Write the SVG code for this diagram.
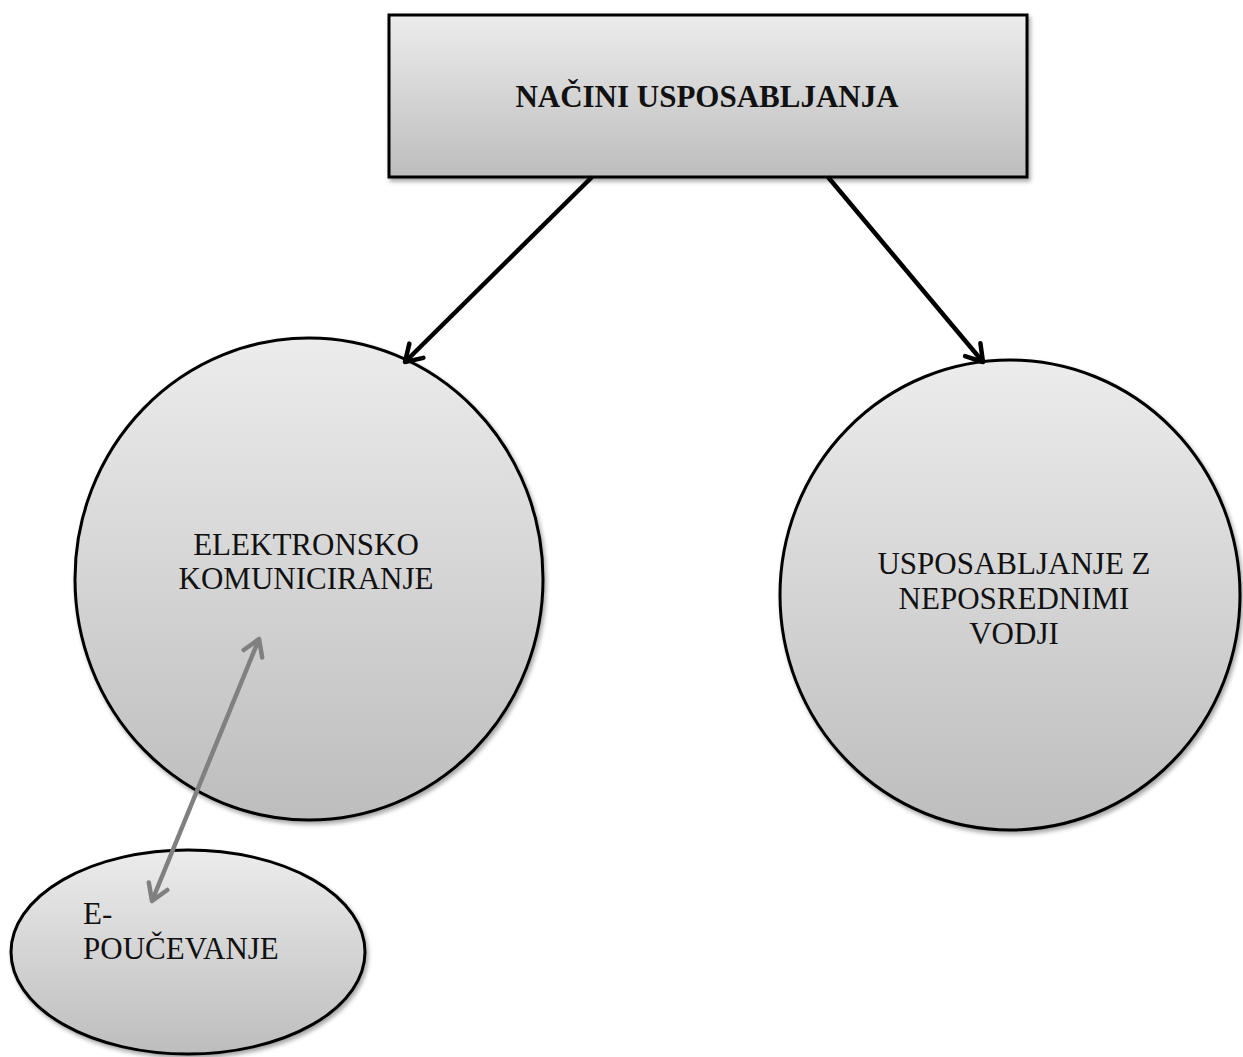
<svg xmlns="http://www.w3.org/2000/svg" width="1243" height="1057" viewBox="0 0 1243 1057">
  <style>
    .shape { stroke: #000; stroke-width: 3; fill: url(#grad); filter: url(#shadow); }
    .lbl { font-family: "Liberation Serif", "Times New Roman", serif; font-size: 31px; fill: #111; }
    .title { font-weight: bold; }
    .conn { fill: none; stroke: #000; stroke-width: 4.5; }
    .conn2 { fill: none; stroke: #808080; stroke-width: 4.5; }
  </style>
  <defs>
    <linearGradient id="grad" x1="0" y1="0" x2="0" y2="1">
      <stop offset="0" stop-color="#ececec"/>
      <stop offset="1" stop-color="#bdbdbd"/>
    </linearGradient>
    <filter id="shadow" x="-10%" y="-10%" width="125%" height="125%">
      <feDropShadow dx="2" dy="3" stdDeviation="2" flood-color="#000" flood-opacity="0.35"/>
    </filter>
    <marker id="arrBlack" markerUnits="userSpaceOnUse" markerWidth="34" markerHeight="34" refX="0" refY="0" viewBox="-22 -17 34 34" orient="auto">
      <path d="M -16 -10 L 0 0 L -16 10" fill="none" stroke="#000" stroke-width="4.5" stroke-linecap="round" stroke-linejoin="round"/>
    </marker>
    <marker id="arrGray" markerUnits="userSpaceOnUse" markerWidth="34" markerHeight="34" refX="0" refY="0" viewBox="-22 -17 34 34" orient="auto-start-reverse">
      <path d="M -16 -10 L 0 0 L -16 10" fill="none" stroke="#808080" stroke-width="4.5" stroke-linecap="round" stroke-linejoin="round"/>
    </marker>
  </defs>
  <rect width="1243" height="1057" fill="#fff"/>

  <g id="node-nacini">
    <rect class="shape" x="389" y="15" width="638" height="162"/>
    <text class="lbl title" x="707" y="107" text-anchor="middle">NAČINI USPOSABLJANJA</text>
  </g>

  <g id="node-elektronsko">
    <ellipse class="shape" cx="309" cy="579" rx="234" ry="241"/>
    <text class="lbl" x="306" y="555" text-anchor="middle">ELEKTRONSKO</text>
    <text class="lbl" x="306" y="589" text-anchor="middle">KOMUNICIRANJE</text>
  </g>

  <g id="node-usposabljanje">
    <ellipse class="shape" cx="1010" cy="595" rx="230" ry="235"/>
    <text class="lbl" x="1014" y="574" text-anchor="middle">USPOSABLJANJE Z</text>
    <text class="lbl" x="1014" y="609" text-anchor="middle">NEPOSREDNIMI</text>
    <text class="lbl" x="1014" y="644" text-anchor="middle">VODJI</text>
  </g>

  <g id="node-epoucevanje">
    <ellipse class="shape" cx="188" cy="952" rx="177" ry="102"/>
    <text class="lbl" x="83" y="924">E-</text>
    <text class="lbl" x="83" y="959">POUČEVANJE</text>
  </g>

  <g id="connectors">
    <line class="conn" x1="592" y1="177" x2="405" y2="362" marker-end="url(#arrBlack)"/>
    <line class="conn" x1="828" y1="177" x2="983" y2="362" marker-end="url(#arrBlack)"/>
    <line class="conn2" x1="152" y1="901" x2="259" y2="639" marker-start="url(#arrGray)" marker-end="url(#arrGray)"/>
  </g>
</svg>
